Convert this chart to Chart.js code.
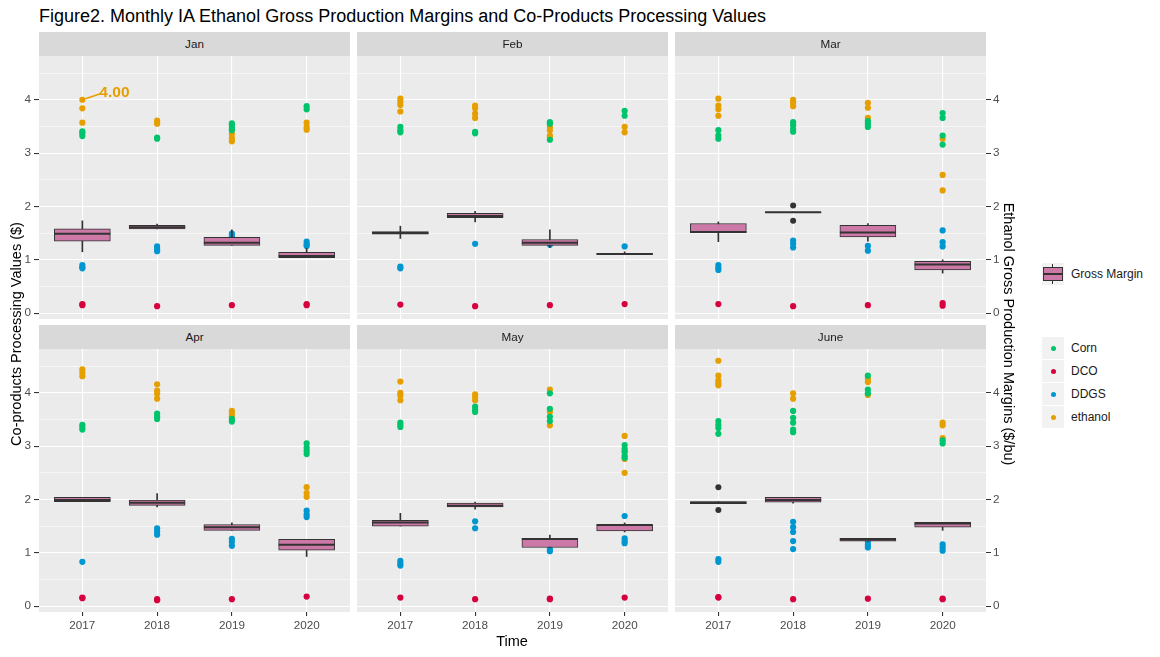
<!DOCTYPE html>
<html lang="en">
<head>
<meta charset="UTF-8">
<title>Figure2</title>
<script src="https://cdn.jsdelivr.net/npm/chart.js"></script>
<style>
  body { margin: 0; background: #fff; font-family: "Liberation Sans", Arial, sans-serif; }
  #page { position: relative; width: 1160px; height: 657px; overflow: hidden; }
  #page canvas { position: absolute; }
  .strip { position: absolute; background: #D9D9D9; color: #1A1A1A; font-size: 11.7px; text-align: center; height: 24px; line-height: 24px; z-index: 2; }
  .txt { position: absolute; white-space: nowrap; z-index: 3; }
  .key { position: absolute; background: #F2F2F2; width: 22px; height: 22px; }
  .key div { position: absolute; }
  .lab { position: absolute; font-size: 12px; color: #1A1A1A; line-height: 14px; }
</style>
</head>
<body>
<div id="page">
  <div class="txt" style="left:39px;top:5px;font-size:18px;line-height:22px;color:#000">Figure2. Monthly IA Ethanol Gross Production Margins and Co-Products Processing Values</div>
  <div class="txt" style="left:-184px;top:324px;width:400px;height:20px;line-height:20px;text-align:center;font-size:14.5px;color:#000;transform:rotate(-90deg)">Co-products Processing Values ($)</div>
  <div class="txt" style="left:809px;top:324px;width:400px;height:20px;line-height:20px;text-align:center;font-size:14.5px;color:#000;transform:rotate(90deg)">Ethanol Gross Production Margins ($/bu)</div>
  <div class="txt" style="left:462px;top:632px;width:100px;text-align:center;font-size:14.5px;line-height:18px;color:#000">Time</div>
</div>
<script>
// categories
const years = ['2017', '2018', '2019', '2020'];
const months = ['Jan', 'Feb', 'Mar', 'Apr', 'May', 'June'];
const yMajor = [0, 1, 2, 3, 4];

// co-product values, [month][year] -> weekly values
const corn = [
  [[3.41, 3.37, 3.32], [3.29, 3.27], [3.56, 3.52, 3.47, 3.43], [3.88, 3.82]],
  [[3.49, 3.43, 3.39], [3.40, 3.37], [3.58, 3.55, 3.25], [3.79, 3.70]],
  [[3.43, 3.33, 3.27], [3.58, 3.52, 3.45, 3.40], [3.60, 3.55, 3.49], [3.75, 3.66, 3.33, 3.16]],
  [[3.40, 3.36, 3.31], [3.61, 3.56, 3.51], [3.51, 3.46], [3.05, 2.97, 2.91, 2.85]],
  [[3.44, 3.40, 3.36], [3.74, 3.68, 3.64], [3.99, 3.70, 3.55, 3.47], [3.02, 2.95, 2.90, 2.82, 2.78]],
  [[3.47, 3.40, 3.34, 3.23], [3.66, 3.53, 3.44, 3.31, 3.26], [4.32, 4.06, 3.99], [3.11, 3.05]]
];
const dco = [
  [[0.17, 0.15], [0.13], [0.15], [0.17, 0.15]],
  [[0.16], [0.13], [0.15], [0.17]],
  [[0.17], [0.13], [0.15], [0.19, 0.14]],
  [[0.16, 0.15], [0.13, 0.11], [0.13], [0.18]],
  [[0.16], [0.13], [0.14, 0.13], [0.16]],
  [[0.17, 0.16], [0.13], [0.14], [0.14, 0.13]]
];
const ddgs = [
  [[0.90, 0.86, 0.84], [1.25, 1.20, 1.16], [1.49, 1.44], [1.34, 1.29, 1.26]],
  [[0.87, 0.84], [1.30], [1.28], [1.25]],
  [[0.90, 0.85, 0.81], [1.36, 1.30, 1.23], [1.26, 1.17], [1.55, 1.33, 1.25]],
  [[0.83], [1.46, 1.40, 1.34], [1.26, 1.20, 1.13], [1.79, 1.72, 1.67]],
  [[0.85, 0.80, 0.76], [1.59, 1.46], [1.07, 1.03], [1.69, 1.27, 1.22, 1.18]],
  [[0.88, 0.83], [1.58, 1.48, 1.39, 1.22, 1.07], [1.21, 1.15, 1.10], [1.16, 1.10, 1.04]]
];
const ethanol = [
  [[4.00, 3.84, 3.57], [3.61, 3.57, 3.55], [3.36, 3.28, 3.22], [3.57, 3.49, 3.44]],
  [[4.02, 3.96, 3.90, 3.78], [3.89, 3.84, 3.74, 3.66], [3.49, 3.43, 3.33, 3.30], [3.49, 3.39]],
  [[4.02, 3.89, 3.82, 3.70], [4.00, 3.95, 3.88], [3.94, 3.85, 3.66], [3.27, 2.59, 2.30]],
  [[4.44, 4.38, 4.31], [4.16, 4.04, 3.98, 3.89], [3.66, 3.61, 3.56], [2.23, 2.12, 2.05]],
  [[4.21, 4.00, 3.95, 3.86], [3.97, 3.92, 3.86], [4.06, 3.64, 3.39], [3.19, 2.89, 2.76, 2.50]],
  [[4.60, 4.32, 4.23, 4.18, 4.14], [3.99, 3.89], [4.26, 4.20, 3.96], [3.44, 3.39, 3.15]]
];

// gross margin boxplot stats, [month][year]
const marginLo = [
  [1.15, 1.58, 1.27, 1.04], [1.40, 1.71, 1.23, 1.10], [1.34, 1.885, 1.35, 0.75],
  [1.96, 1.86, 1.42, 0.93], [1.50, 1.82, 1.10, 1.39], [1.92, 1.93, 1.22, 1.42]
];
const marginQ1 = [
  [1.35, 1.58, 1.27, 1.04], [1.48, 1.79, 1.27, 1.10], [1.51, 1.885, 1.43, 0.81],
  [1.96, 1.89, 1.42, 1.05], [1.50, 1.86, 1.10, 1.41], [1.92, 1.95, 1.22, 1.48]
];
const marginMed = [
  [1.49, 1.61, 1.32, 1.07], [1.50, 1.82, 1.32, 1.11], [1.52, 1.89, 1.51, 0.91],
  [1.99, 1.94, 1.48, 1.15], [1.57, 1.88, 1.26, 1.52], [1.94, 1.99, 1.25, 1.55]
];
const marginQ3 = [
  [1.58, 1.645, 1.42, 1.14], [1.53, 1.87, 1.38, 1.12], [1.68, 1.895, 1.645, 0.97],
  [2.04, 1.99, 1.53, 1.25], [1.61, 1.93, 1.27, 1.53], [1.96, 2.04, 1.27, 1.57]
];
const marginHi = [
  [1.73, 1.67, 1.56, 1.21], [1.63, 1.91, 1.56, 1.15], [1.71, 1.895, 1.68, 1.00],
  [2.04, 2.11, 1.56, 1.25], [1.74, 1.95, 1.33, 1.56], [1.96, 2.04, 1.27, 1.57]
];
const marginOut = [
  [[], [], [], []], [[], [], [], []], [[], [2.02, 1.73], [], []],
  [[], [], [], []], [[], [], [], []], [[2.23, 1.80], [], [], []]
];

// labelled point
const labelMonth = 0, labelYear = 0, labelValue = 4.00;

const seriesNames = ['Corn', 'DCO', 'DDGS', 'ethanol'];
const seriesData = [corn, dco, ddgs, ethanol];
const seriesColors = ['#00C46B', '#D7003E', '#0097D0', '#E69F00'];
const seriesOrder = [3, 6, 5, 4];
const boxFill = '#CC79A7';
const dark = '#333333';

const font = { family: '"Liberation Sans", Arial, sans-serif', size: 11.7 };
const yMin = -0.11, yMax = 4.82;
const panelW = 311, panelH = 263;
const panelLeft = [39, 357, 675];
const plotTop = [56, 349];
const page = document.getElementById('page');

const panelBg = {
  id: 'panelBg',
  beforeDraw(chart) {
    const { ctx, chartArea: a } = chart;
    ctx.save();
    ctx.fillStyle = '#EBEBEB';
    ctx.fillRect(a.left, a.top, a.right - a.left, a.bottom - a.top);
    ctx.restore();
  }
};

const pointLabel = {
  id: 'pointLabel',
  afterDatasetsDraw(chart) {
    if (chart.$month !== labelMonth) return;
    const { ctx, scales } = chart;
    const px = scales.x.getPixelForValue(labelYear + 1);
    const py = scales.y.getPixelForValue(labelValue);
    ctx.save();
    ctx.strokeStyle = '#E69F00';
    ctx.lineWidth = 1.8;
    ctx.beginPath();
    ctx.moveTo(px + 3, py - 1);
    ctx.lineTo(px + 18, py - 6);
    ctx.stroke();
    ctx.fillStyle = '#E69F00';
    ctx.font = 'bold 15.5px "Liberation Sans", Arial, sans-serif';
    ctx.textBaseline = 'middle';
    ctx.fillText(labelValue.toFixed(2), px + 17, py - 7.5);
    ctx.restore();
  }
};

function flatten(byYear) {
  const pts = [];
  byYear.forEach((vals, i) => vals.forEach(v => pts.push({ x: i + 1, y: v })));
  return pts;
}

months.forEach((month, m) => {
  const col = m % 3, row = Math.floor(m / 3);
  const canvas = document.createElement('canvas');
  canvas.width = panelW + 80;
  canvas.height = panelH + 40;
  canvas.style.left = (panelLeft[col] - 40) + 'px';
  canvas.style.top = (plotTop[row] - 10) + 'px';
  page.appendChild(canvas);

  const strip = document.createElement('div');
  strip.className = 'strip';
  strip.style.left = panelLeft[col] + 'px';
  strip.style.top = (plotTop[row] - 24) + 'px';
  strip.style.width = panelW + 'px';
  strip.textContent = month;
  page.appendChild(strip);

  const datasets = [
    {
      type: 'bar', label: 'whisker', grouped: false, order: 2,
      data: years.map((_, i) => ({ x: i + 1, y: [marginLo[m][i], marginHi[m][i]] })),
      barThickness: 1, backgroundColor: dark, borderWidth: 0
    },
    {
      type: 'bar', label: 'Gross Margin', grouped: false, order: 1,
      data: years.map((_, i) => ({ x: i + 1, y: [marginQ1[m][i], marginQ3[m][i]] })),
      barThickness: 56, backgroundColor: boxFill, borderColor: dark, borderWidth: 1, borderSkipped: false
    },
    {
      type: 'scatter', label: 'median', order: 0,
      data: years.map((_, i) => ({ x: i + 1, y: marginMed[m][i] })),
      pointStyle: 'line', pointRadius: 28, pointBorderWidth: 2, pointBorderColor: dark
    },
    {
      type: 'scatter', label: 'outlier', order: 0,
      data: flatten(marginOut[m]),
      pointRadius: 3, pointBorderWidth: 0, pointBackgroundColor: dark
    }
  ];
  seriesNames.forEach((name, s) => {
    datasets.push({
      type: 'scatter', label: name, order: seriesOrder[s],
      data: flatten(seriesData[s][m]),
      pointRadius: 3.1, pointBorderWidth: 0, pointBackgroundColor: seriesColors[s]
    });
  });

  const isMajor = v => Number.isInteger(v);
  const chart = new Chart(canvas, {
    type: 'scatter',
    data: { datasets },
    options: {
      responsive: false,
      animation: false,
      devicePixelRatio: 1,
      layout: { autoPadding: false, padding: { top: 10, left: 0, right: 0, bottom: 0 } },
      plugins: { legend: { display: false }, tooltip: { enabled: false } },
      scales: {
        x: {
          type: 'linear', min: 0.42, max: 4.58, offset: false,
          afterBuildTicks: s => { s.ticks = years.map((_, i) => ({ value: i + 1 })); },
          afterFit: s => { s.height = 30; },
          border: { display: false },
          grid: { offset: false, color: '#FFFFFF', lineWidth: 1.1, tickColor: row === 1 ? dark : 'transparent', tickLength: 4 },
          ticks: {
            color: row === 1 ? '#4D4D4D' : 'transparent', font, padding: 3,
            maxRotation: 0, autoSkip: false, callback: v => years[v - 1]
          }
        },
        y: {
          position: 'left', min: yMin, max: yMax,
          afterBuildTicks: s => {
            const t = [];
            for (let v = 0; v <= 4.5; v += 0.5) t.push({ value: v });
            s.ticks = t;
          },
          afterFit: s => { s.width = 40; },
          border: { display: false },
          grid: {
            color: '#FFFFFF',
            lineWidth: c => isMajor(c.tick.value) ? 1.1 : 0.55,
            tickColor: c => (col === 0 && isMajor(c.tick.value)) ? dark : 'transparent',
            tickLength: 5
          },
          ticks: {
            color: col === 0 ? '#4D4D4D' : 'transparent', font, padding: 3,
            callback: v => isMajor(v) ? String(v) : ''
          }
        },
        y2: {
          position: 'right', min: yMin, max: yMax,
          afterBuildTicks: s => { s.ticks = yMajor.map(v => ({ value: v })); },
          afterFit: s => { s.width = 40; },
          border: { display: false },
          grid: { drawOnChartArea: false, tickColor: col === 2 ? dark : 'transparent', tickLength: 5 },
          ticks: { color: col === 2 ? '#4D4D4D' : 'transparent', font, padding: 2, callback: v => String(v) }
        }
      }
    },
    plugins: [panelBg, pointLabel]
  });
  chart.$month = m;
  chart.draw();
});

// legend: gross margin box key
const boxKey = document.createElement('div');
boxKey.className = 'key';
boxKey.style.left = '1042px';
boxKey.style.top = '263px';
boxKey.innerHTML =
  '<div style="left:10px;top:1px;width:1px;height:4px;background:' + dark + '"></div>' +
  '<div style="left:10px;top:17px;width:1px;height:4px;background:' + dark + '"></div>' +
  '<div style="left:1px;top:4px;width:18px;height:12px;background:' + boxFill + ';border:1px solid ' + dark + '"></div>' +
  '<div style="left:2px;top:10px;width:18px;height:2px;background:' + dark + '"></div>';
page.appendChild(boxKey);
const boxLab = document.createElement('div');
boxLab.className = 'lab';
boxLab.style.left = '1071px';
boxLab.style.top = '267px';
boxLab.textContent = 'Gross Margin';
page.appendChild(boxLab);

// legend: point series
seriesNames.forEach((name, s) => {
  const top = 337 + s * 23;
  const key = document.createElement('div');
  key.className = 'key';
  key.style.left = '1042px';
  key.style.top = top + 'px';
  key.innerHTML = '<div style="left:8.5px;top:8.5px;width:5px;height:5px;border-radius:50%;background:' + seriesColors[s] + '"></div>';
  page.appendChild(key);
  const lab = document.createElement('div');
  lab.className = 'lab';
  lab.style.left = '1071px';
  lab.style.top = (top + 4) + 'px';
  lab.textContent = name;
  page.appendChild(lab);
});
</script>
</body>
</html>
